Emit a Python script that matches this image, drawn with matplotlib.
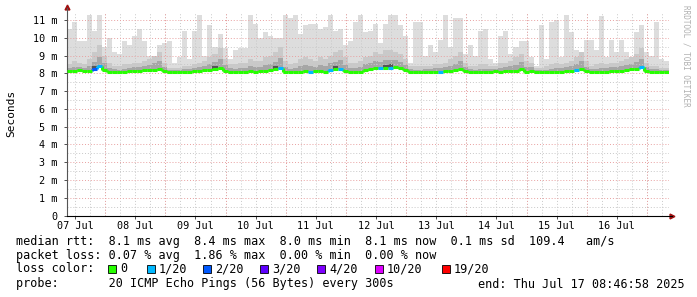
import datetime as dt

import numpy as np
import matplotlib
matplotlib.use('Agg')
import matplotlib.pyplot as plt
import matplotlib.dates as mdates
from matplotlib.patches import Rectangle

# time range of the graph, one value per 2 hour bin
start = dt.datetime(2025, 7, 7, 8, 46, 58)
end = dt.datetime(2025, 7, 17, 8, 46, 58)
step_hours = 2

# highest ping per bin (ms)
rtt_max = [
    10.5, 10.9, 9.8, 9.8, 11.3, 10.4, 11.3, 9.5, 10.0, 9.2, 9.1, 9.8,
    9.6, 10.1, 10.5, 9.8, 9.0, 8.9, 9.6, 9.7, 9.8, 8.6, 8.9, 10.4,
    8.8, 10.4, 11.3, 9.0, 10.7, 9.5, 10.2, 9.4, 8.8, 9.3, 9.4, 9.4,
    11.3, 10.8, 10.0, 10.3, 10.1, 10.0, 10.0, 11.3, 11.1, 11.3, 10.2, 10.7,
    10.8, 10.8, 10.5, 10.6, 11.3, 10.4, 10.5, 9.6, 9.8, 10.9, 11.3, 10.3,
    10.4, 10.8, 9.7, 10.8, 11.3, 11.3, 10.7, 10.1, 8.6, 10.9, 10.9, 9.0,
    9.6, 9.2, 9.9, 11.3, 9.5, 11.1, 11.1, 9.1, 9.6, 9.0, 10.4, 10.5,
    8.8, 8.6, 10.1, 10.4, 9.1, 9.5, 9.8, 9.8, 8.9, 8.4, 10.7, 8.8,
    10.9, 11.0, 8.9, 11.3, 10.3, 9.3, 9.1, 9.9, 9.9, 9.3, 11.2, 8.9,
    9.9, 9.2, 9.9, 9.2, 8.9, 10.3, 10.7, 9.2, 9.0, 10.9, 8.8, 8.7,
]

# upper part of the dense smoke per bin (ms)
rtt_p75 = [
    8.5, 8.7, 8.6, 8.5, 8.8, 9.2, 9.6, 9.0, 8.6, 8.4, 8.4, 8.5,
    8.5, 8.6, 8.6, 8.7, 8.8, 9.0, 9.2, 8.6, 8.3, 8.3, 8.3, 8.4,
    8.4, 8.5, 8.6, 8.7, 8.9, 9.1, 9.4, 8.8, 8.5, 8.5, 8.6, 8.6,
    8.8, 8.7, 8.7, 8.9, 9.0, 9.2, 9.5, 8.7, 8.5, 8.6, 8.8, 8.9,
    8.8, 8.7, 8.9, 8.8, 9.0, 9.2, 9.3, 8.9, 8.6, 8.6, 8.7, 8.9,
    9.0, 9.2, 9.1, 9.3, 9.3, 9.2, 9.1, 8.8, 8.4, 8.4, 8.4, 8.4,
    8.4, 8.5, 8.5, 8.6, 8.8, 9.0, 9.2, 8.6, 8.4, 8.4, 8.5, 8.5,
    8.4, 8.4, 8.6, 8.6, 8.7, 8.9, 9.1, 8.7, 8.6, 8.3, 8.3, 8.4,
    8.5, 8.6, 8.5, 8.6, 8.7, 8.9, 9.2, 8.7, 8.4, 8.5, 8.6, 8.5,
    8.6, 8.6, 8.7, 8.8, 8.9, 9.1, 9.4, 8.6, 8.4, 8.4, 8.3, 8.3,
]

# median rtt per bin (ms)
rtt_median = [
    8.15, 8.12, 8.18, 8.12, 8.14, 8.22, 8.40, 8.20, 8.10, 8.08, 8.06, 8.08,
    8.12, 8.14, 8.16, 8.18, 8.17, 8.20, 8.24, 8.12, 8.06, 8.05, 8.05, 8.07,
    8.10, 8.12, 8.15, 8.18, 8.20, 8.22, 8.30, 8.16, 8.10, 8.08, 8.09, 8.10,
    8.12, 8.10, 8.12, 8.14, 8.18, 8.22, 8.30, 8.10, 8.08, 8.07, 8.10, 8.12,
    8.10, 8.12, 8.14, 8.10, 8.20, 8.22, 8.26, 8.14, 8.10, 8.08, 8.10, 8.18,
    8.22, 8.28, 8.30, 8.28, 8.32, 8.34, 8.30, 8.20, 8.08, 8.06, 8.05, 8.07,
    8.08, 8.10, 8.10, 8.12, 8.14, 8.18, 8.25, 8.12, 8.08, 8.06, 8.06, 8.08,
    8.10, 8.12, 8.10, 8.12, 8.14, 8.16, 8.22, 8.10, 8.14, 8.08, 8.05, 8.06,
    8.08, 8.10, 8.10, 8.12, 8.14, 8.18, 8.26, 8.12, 8.08, 8.08, 8.10, 8.10,
    8.12, 8.14, 8.16, 8.20, 8.22, 8.25, 8.35, 8.14, 8.10, 8.08, 8.08, 8.08,
]

# lost pings (of 20) per bin, only the bins that lost something
loss_bins = {5: 2, 6: 1, 42: 1, 48: 1, 52: 1, 54: 1, 62: 1, 64: 1, 74: 1, 101: 1, 114: 1}

loss_levels = [0, 1, 2, 3, 4, 10, 19]
loss_labels = ['0', '1/20', '2/20', '3/20', '4/20', '10/20', '19/20']
loss_colors = ['#26ff00', '#00b8ff', '#0059ff', '#5e00ff', '#7e00ff', '#dd00ff', '#ff0000']

W, H = 697, 297
MONO = 'DejaVu Sans Mono'
plt.rcParams['font.family'] = MONO

n = len(rtt_median)
edges = mdates.date2num([start + dt.timedelta(hours=step_hours * i) for i in range(n + 1)])
med = np.array(rtt_median)
p75 = np.array(rtt_p75)
top = np.array(rtt_max)
low = med - 0.07


def stepped(a):
    return np.append(a, a[-1])


fig = plt.figure(figsize=(W / 100, H / 100), dpi=100)
ax = fig.add_axes([67 / W, 1 - 215.6 / H, 602 / W, (215.6 - 12) / H])

# smoke
ax.fill_between(edges, stepped(low), stepped(top), step='post', color='#dddddd', lw=0, zorder=1)
ax.fill_between(edges, stepped(low), stepped(p75), step='post', color='#c9c9c9', lw=0, zorder=1.1)
mid = med + 0.45 * (p75 - med)
ax.fill_between(edges, stepped(med - 0.04), stepped(mid), step='post', color='#a6a6a6', lw=0, zorder=1.2)
dark = med + 0.2 * (p75 - med)
ax.fill_between(edges, stepped(med), stepped(dark), step='post', color='#555555', lw=0, zorder=1.3,
                where=stepped(p75 - med) > 0.85)

# grid, drawn over the smoke like rrdtool does
x0, x1 = mdates.date2num(start), mdates.date2num(end)
for t in mdates.HourLocator(byhour=[0, 6, 12, 18]).tick_values(start, end):
    if x0 < t < x1:
        ax.axvline(t, color='#c8c8c8', lw=0.7, ls=(0, (1, 2)), zorder=2)
for t in mdates.DayLocator().tick_values(start, end):
    if x0 < t < x1:
        ax.axvline(t, color='#e8a0a0', lw=0.7, ls=(0, (1, 2)), zorder=2.1)
for v in np.arange(0.5, 11.5, 1.0):
    ax.axhline(v, color='#c8c8c8', lw=0.7, ls=(0, (1, 2)), zorder=2)
for v in range(1, 12):
    ax.axhline(v, color='#e8a0a0', lw=0.7, ls=(0, (1, 2)), zorder=2.1)

# median line coloured by loss
seg_colors = [loss_colors[loss_levels.index(loss_bins.get(i, 0))] for i in range(n)]
ax.vlines(edges[1:-1], med[:-1], med[1:], colors=seg_colors[1:], lw=2.2, zorder=4)
ax.hlines(med, edges[:-1], edges[1:], colors=seg_colors, lw=2.2, zorder=4.1)

ax.set_xlim(x0, x1)
ax.set_ylim(0, 11.45)

ax.xaxis.set_major_locator(mdates.HourLocator(byhour=12))
ax.xaxis.set_major_formatter(mdates.DateFormatter('%d %b'))
ax.set_yticks(range(0, 12))
ax.set_yticklabels(['0'] + [f'{v} m' for v in range(1, 12)])
ax.tick_params(axis='both', labelsize=7.3, length=2, width=0.6, colors='#333333', labelcolor='black')
ax.tick_params(axis='y', pad=5)
ax.tick_params(axis='x', pad=2)

for s in ['top', 'right']:
    ax.spines[s].set_visible(False)
ax.spines['left'].set_color('#555555')
ax.spines['bottom'].set_color('black')
ax.spines['left'].set_bounds(0, 11.7)
ax.spines['bottom'].set_bounds(x0, x1 + (x1 - x0) * 0.005)
ax.plot([0], [1.025], marker='^', color='#a01010', ms=3.5, transform=ax.transAxes, clip_on=False)
ax.plot([1.005], [0], marker='>', color='#a01010', ms=3.5, transform=ax.transAxes, clip_on=False)

fig.text(11 / W, 1 - 113 / H, 'Seconds', rotation=90, ha='center', va='center', fontsize=8)
fig.text(686 / W, 1 - 5 / H, 'RRDTOOL / TOBI OETIKER', rotation=270, ha='center', va='top',
         fontsize=5.5, color='#b0b0b0')


def line(x, y, s):
    fig.text(x / W, 1 - y / H, s, ha='left', va='center', fontsize=8.5)


line(16, 241, 'median rtt:  8.1 ms avg  8.4 ms max  8.0 ms min  8.1 ms now  0.1 ms sd  109.4   am/s')
line(16, 256, 'packet loss: 0.07 % avg  1.86 % max  0.00 % min  0.00 % now')
line(16, 269, 'loss color:')
line(16, 284, 'probe:       20 ICMP Echo Pings (56 Bytes) every 300s')
line(478, 284, 'end: Thu Jul 17 08:46:58 2025')

box_x = [108, 147, 203, 260, 317, 375, 442]
for bx, lab, col in zip(box_x, loss_labels, loss_colors):
    fig.patches.append(Rectangle((bx / W, 1 - 273 / H), 8 / W, 8 / H, transform=fig.transFigure,
                                 facecolor=col, edgecolor='black', lw=0.6))
    line(bx + 12, 269, lab)

fig.savefig('out.png', dpi=100, facecolor='white')
